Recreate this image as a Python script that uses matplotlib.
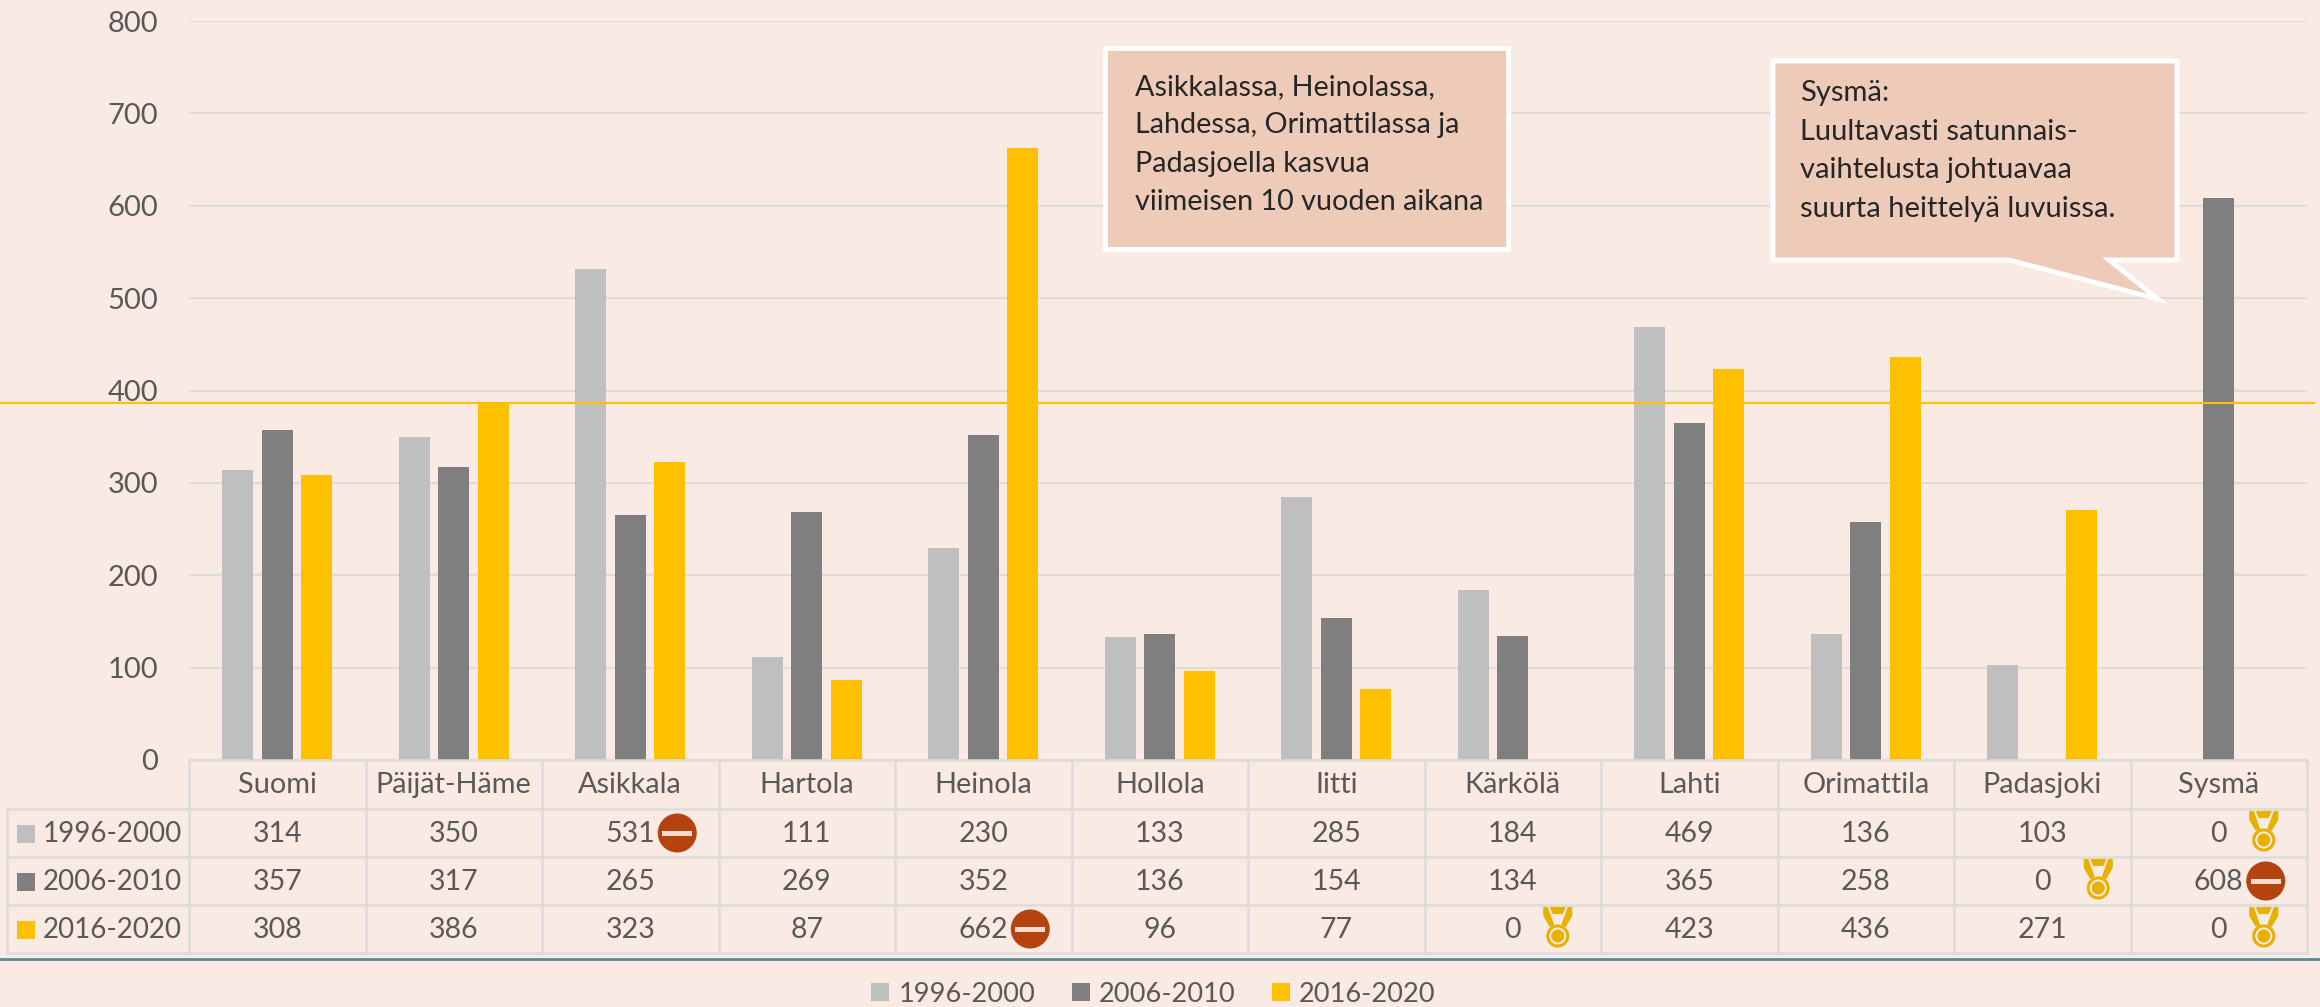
import numpy as np
import matplotlib
matplotlib.use("Agg")
import matplotlib.pyplot as plt
from matplotlib.patches import Rectangle, Circle, Polygon
from matplotlib.transforms import blended_transform_factory

plt.rcParams['font.family'] = ['Lato', 'DejaVu Sans']

categories = ["Suomi", "Päijät-Häme", "Asikkala", "Hartola", "Heinola", "Hollola",
              "Iitti", "Kärkölä", "Lahti", "Orimattila", "Padasjoki", "Sysmä"]
periods = ["1996-2000", "2006-2010", "2016-2020"]
v_1996 = [314, 350, 531, 111, 230, 133, 285, 184, 469, 136, 103, 0]
v_2006 = [357, 317, 265, 269, 352, 136, 154, 134, 365, 258, 0, 608]
v_2016 = [308, 386, 323, 87, 662, 96, 77, 0, 423, 436, 271, 0]
series = [v_1996, v_2006, v_2016]
ref_value = 386
y_ticks = [0, 100, 200, 300, 400, 500, 600, 700, 800]

note_left = ["Asikkalassa, Heinolassa,", "Lahdessa, Orimattilassa ja",
             "Padasjoella kasvua", "viimeisen 10 vuoden aikana"]
note_right = ["Sysmä:", "Luultavasti satunnais-", "vaihtelusta johtuavaa",
              "suurta heittelyä luvuissa."]

BG = "#F9EAE3"
GRID = "#DCDCDC"
TXT = "#595959"
colors = ["#BFBFBF", "#7F7F7F", "#FFC000"]
STOP = "#B5430F"
GOLD = "#E8B000"
BOX = "#EECBB8"
W, H = 2320, 1007

fig = plt.figure(figsize=(W / 100, H / 100), dpi=100, facecolor=BG)

# chart area, pixel box
L, R, T, B = 189, 2307, 21, 760
ax = fig.add_axes([L / W, 1 - B / H, (R - L) / W, (B - T) / H], facecolor="none")
x = np.arange(len(categories))
bw = 0.175
step = 0.2227
for i, vals in enumerate(series):
    ax.bar(x + (i - 1) * step, vals, bw, color=colors[i], zorder=3, label=periods[i])
ax.set_xlim(-0.5, len(categories) - 0.5)
ax.set_ylim(0, 800)
ax.set_yticks(y_ticks)
ax.set_xticks([])
ax.tick_params(axis='y', length=0, pad=22, labelsize=21, labelcolor=TXT)
ax.grid(axis='y', color=GRID, lw=1.5, zorder=0)
for s in ax.spines.values():
    s.set_visible(False)
# gold reference line runs past the plot, over nearly the full width
ax.plot([0, 2314 / W], [ref_value, ref_value], color="#FFC000", lw=1.5, zorder=4, clip_on=False,
        transform=blended_transform_factory(fig.transFigure, ax.transData))

# overlay in pixels for the data table and the callouts
ov = fig.add_axes([0, 0, 1, 1], facecolor="none")
ov.set_xlim(0, W)
ov.set_ylim(H, 0)
ov.axis('off')

cw = (R - L) / len(categories)
row_y = [760, 809, 857, 905, 953]
lw_t = 1.8
ov.plot([L, R], [row_y[0], row_y[0]], color=GRID, lw=lw_t)
for y in row_y[1:]:
    ov.plot([7, R], [y, y], color=GRID, lw=lw_t)
ov.plot([7, 7], [row_y[1], row_y[4]], color=GRID, lw=lw_t)
for j in range(len(categories) + 1):
    ov.plot([L + j * cw] * 2, [row_y[0], row_y[4]], color=GRID, lw=lw_t)
ov.plot([0, W], [959, 959], color="#5F8A90", lw=2)


def stop_icon(cx, cy):
    ov.add_patch(Circle((cx, cy), 19.5, color=STOP, lw=0, zorder=6))
    ov.add_patch(Rectangle((cx - 15, cy - 2.5), 30, 5, color="#F6DCCF", lw=0, zorder=7))


def medal_icon(cx, cy):
    # top piece and the two ribbon strands
    ov.add_patch(Polygon([(cx - 8, cy - 29), (cx + 8, cy - 29), (cx + 5, cy - 22), (cx - 5, cy - 22)],
                         color=GOLD, lw=0, zorder=6))
    for d in (-1, 1):
        ov.add_patch(Polygon([(cx + d * 14.5, cy - 29), (cx + d * 10, cy - 29), (cx + d * 3.5, cy - 11),
                              (cx + d * 8, cy - 9), (cx + d * 14.5, cy - 20)], color=GOLD, lw=0, zorder=6))
    ov.add_patch(Circle((cx, cy), 11.5, color=GOLD, lw=0, zorder=6))
    ov.add_patch(Circle((cx, cy), 8.5, color=BG, lw=0, zorder=7))
    ov.add_patch(Circle((cx, cy), 6.5, color=GOLD, lw=0, zorder=8))


for j, c in enumerate(categories):
    ov.text(L + (j + 0.5) * cw, 785, c, ha='center', va='center', fontsize=20.8, color=TXT)

for i, vals in enumerate(series):
    yc = (row_y[i + 1] + row_y[i + 2]) / 2 + 1
    ov.add_patch(Rectangle((17, yc - 9), 18, 18, color=colors[i], lw=0))
    ov.text(43, yc, periods[i], ha='left', va='center', fontsize=20, color=TXT)
    for j, v in enumerate(vals):
        cx = L + (j + 0.5) * cw
        ov.text(cx, yc, str(v), ha='center', va='center', fontsize=20.5, color=TXT)
        if v == 0:
            medal_icon(cx + (56 if categories[j] == "Padasjoki" else 45), yc + 6)
        elif v == max(vals) and v > 500:
            stop_icon(cx + 47, yc - 1)

# callouts
ov.add_patch(Rectangle((1105, 48), 403, 201, fc=BOX, ec="white", lw=3.5, zorder=5))
for k, t in enumerate(note_left):
    ov.text(1135, 87 + k * 38.5, t, ha='left', va='center', fontsize=20.7, color="#262626", zorder=6)

ov.add_patch(Polygon([(1773, 61), (2177, 61), (2177, 260), (2109, 260), (2158, 299), (2009, 260), (1773, 260)],
                     closed=True, fc=BOX, ec="white", lw=3.5, zorder=5))
for k, t in enumerate(note_right):
    ov.text(1800, 93 + k * 38.7, t, ha='left', va='center', fontsize=21, color="#262626", zorder=6)

h, l = ax.get_legend_handles_labels()
fig.legend(h, l, loc='center', bbox_to_anchor=(1153.5 / W, 1 - 994 / H), ncol=3, frameon=False,
           fontsize=19.6, labelcolor=TXT, handlelength=0.66, handleheight=0.66, handletextpad=0.33,
           columnspacing=1.34, borderpad=0)

fig.savefig("out.png", dpi=100, facecolor=BG)
